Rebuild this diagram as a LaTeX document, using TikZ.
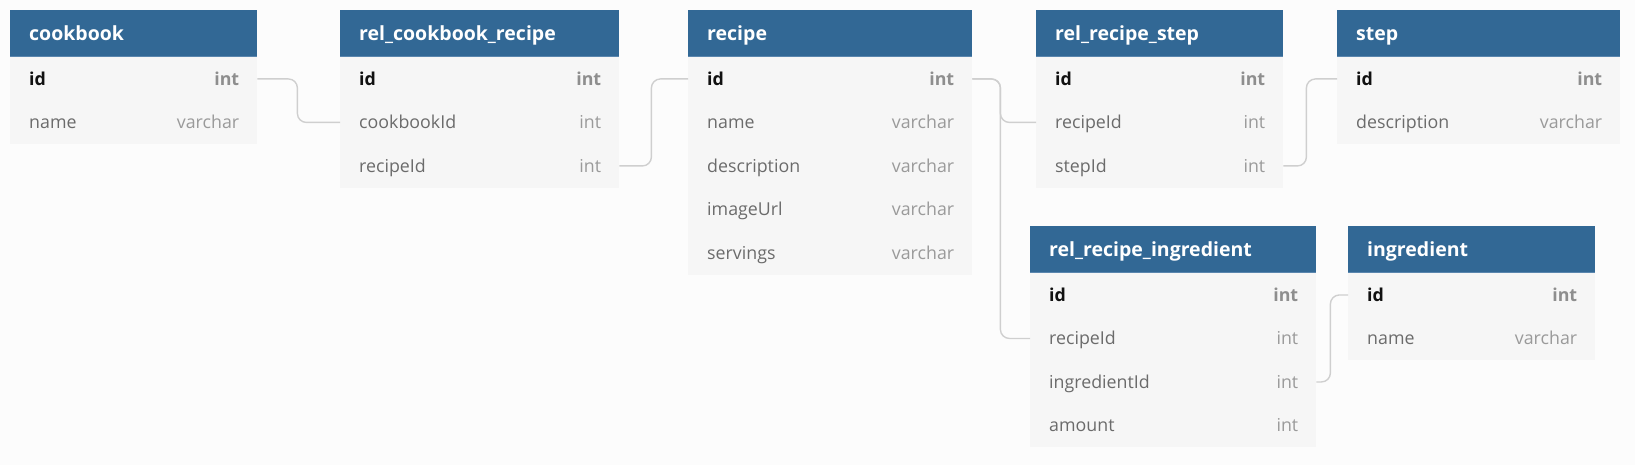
\documentclass[tikz,border=0pt]{standalone}
\usepackage{fontspec}
\setmainfont{Open Sans}
\definecolor{bgc}{HTML}{FCFCFC}
\definecolor{hdrc}{HTML}{326895}
\definecolor{hdrline}{HTML}{5A86AE}
\definecolor{rowc}{HTML}{F6F6F6}
\definecolor{pkc}{HTML}{111111}
\definecolor{pktc}{HTML}{8E8E8E}
\definecolor{fnc}{HTML}{6B6B6B}
\definecolor{ftc}{HTML}{9A9A9A}
\definecolor{connc}{HTML}{CFCFCF}
\tikzset{
  hdr/.style={fill=hdrc, draw=none, minimum height=47pt, inner sep=0pt, anchor=north west},
  hdrtext/.style={anchor=base west, inner sep=0pt, text=white, font=\fontsize{19.5}{22}\selectfont\bfseries},
  rowbox/.style={fill=rowc, draw=none, minimum height=43.5pt, inner sep=0pt, anchor=north west},
  pk-name/.style={anchor=base west, inner sep=0pt, text=pkc, font=\fontsize{17.8}{20}\selectfont\bfseries},
  pk-type/.style={anchor=base east, inner sep=0pt, text=pktc, font=\fontsize{17.8}{20}\selectfont\bfseries},
  fk-name/.style={anchor=base west, inner sep=0pt, text=fnc, font=\fontsize{17.8}{20}\selectfont},
  fk-type/.style={anchor=base east, inner sep=0pt, text=ftc, font=\fontsize{17.8}{20}\selectfont},
  conn/.style={draw=connc, line width=1.4pt, rounded corners=9pt}
}
\newcommand\dbtable[6]{%
  \pgfmathsetmacro\tw{#3-#2}%
  \node[hdr, minimum width=\tw pt] (#1) at (#2,-#4) {};
  \draw[hdrline, line width=1.5pt] ([yshift=0.75pt]#1.south west) -- ([yshift=0.75pt]#1.south east);
  \node[hdrtext] (#1-title) at ([xshift=19pt,yshift=-7.2pt]#1.west) {#5};
  \foreach \k/\n/\t/\b [count=\i] in {#6} {
    \pgfmathsetmacro\yy{#4+47+(\i-1)*43.5}
    \node[rowbox, minimum width=\tw pt] (#1-\k) at (#2,-\yy) {};
    \node[\b-name] (#1-\k-n) at ([xshift=19pt,yshift=-6.3pt]#1-\k.west) {\n};
    \node[\b-type] (#1-\k-t) at ([xshift=-18pt,yshift=-6.3pt]#1-\k.east) {\t};
  }
}
\begin{document}
\begin{tikzpicture}[x=1pt,y=1pt]
\fill[bgc] (0,0) rectangle (1635,-465);
\useasboundingbox (0,0) rectangle (1635,-465);
\dbtable{cb}{10}{257}{10}{cookbook}{id/id/int/pk, name/name/varchar/fk}
\dbtable{rcr}{340}{619}{10}{rel\_cookbook\_recipe}{id/id/int/pk, cookbookId/cookbookId/int/fk, recipeId/recipeId/int/fk}
\dbtable{rc}{688}{972}{10}{recipe}{id/id/int/pk, name/name/varchar/fk, description/description/varchar/fk, imageUrl/imageUrl/varchar/fk, servings/servings/varchar/fk}
\dbtable{rrs}{1036}{1283}{10}{rel\_recipe\_step}{id/id/int/pk, recipeId/recipeId/int/fk, stepId/stepId/int/fk}
\dbtable{st}{1337}{1620}{10}{step}{id/id/int/pk, description/description/varchar/fk}
\dbtable{rri}{1030}{1316}{226}{rel\_recipe\_ingredient}{id/id/int/pk, recipeId/recipeId/int/fk, ingredientId/ingredientId/int/fk, amount/amount/int/fk}
\dbtable{ing}{1348}{1595}{226}{ingredient}{id/id/int/pk, name/name/varchar/fk}
% connectors
\draw[conn] (cb-id.east) -- ([xshift=40pt]cb-id.east) |- (rcr-cookbookId.west);
\draw[conn] (rcr-recipeId.east) -- ([xshift=32pt]rcr-recipeId.east) |- (rc-id.west);
\draw[conn] (rc-id.east) -- ([xshift=28pt]rc-id.east) |- (rrs-recipeId.west);
\draw[conn] (rc-id.east) -- ([xshift=28pt]rc-id.east) |- (rri-recipeId.west);
\draw[conn] (rrs-stepId.east) -- ([xshift=23pt]rrs-stepId.east) |- (st-id.west);
\draw[conn] (rri-ingredientId.east) -- ([xshift=14pt]rri-ingredientId.east) |- (ing-id.west);
\end{tikzpicture}
\end{document}
